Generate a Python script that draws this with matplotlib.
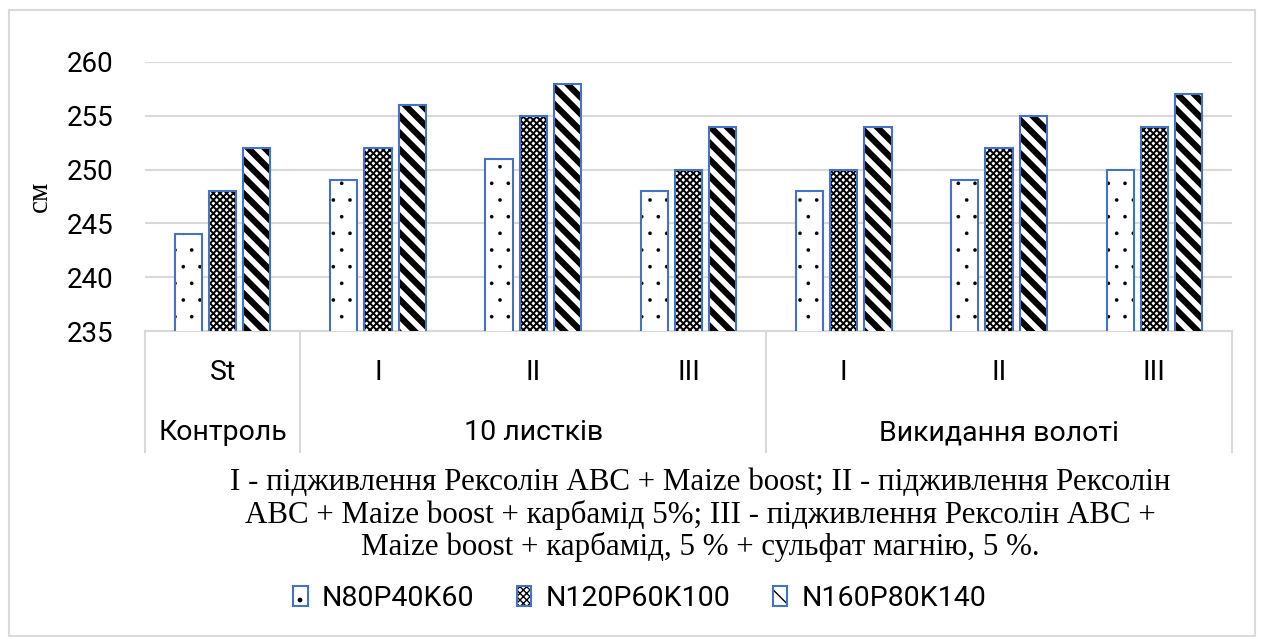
import matplotlib
matplotlib.use("Agg")
import matplotlib.pyplot as plt
from matplotlib.patches import Rectangle, Patch
from matplotlib.lines import Line2D
from matplotlib.legend_handler import HandlerTuple

# Plant height, cm
inner_labels = ["St", "I", "II", "III", "I", "II", "III"]
outer_groups = ["Контроль", "10 листків", "Викидання волоті"]
group_sizes = [1, 3, 3]
series_names = ["N80P40K60", "N120P60K100", "N160P80K140"]
n80p40k60 = [244, 249, 251, 248, 248, 249, 250]
n120p60k100 = [248, 252, 255, 250, 250, 252, 254]
n160p80k140 = [252, 256, 258, 254, 254, 255, 257]
y_ticks = [235, 240, 245, 250, 255, 260]
note = ("I - підживлення Рексолін АВС + Maize boost; II - підживлення Рексолін\n"
        "АВС + Maize boost + карбамід 5%; III - підживлення Рексолін АВС +\n"
        "Maize boost + карбамід, 5 % + сульфат магнію, 5 %.")

SANS = ["Roboto", "DejaVu Sans"]
SERIF = ["Liberation Serif", "DejaVu Serif"]
EDGE = "#4472C4"
GRID = "#D9D9D9"

W, H = 1262, 637
fig = plt.figure(figsize=(W / 100, H / 100), dpi=100)

def fx(px):
    return px / W

def fy(py):
    return 1 - py / H

ax = fig.add_axes([fx(145), fy(331), fx(1232) - fx(145), fy(62) - fy(331)])
ax.set_xlim(-0.5, len(inner_labels) - 0.5)
ax.set_ylim(y_ticks[0], y_ticks[-1])

series = [n80p40k60, n120p60k100, n160p80k140]
hatches = [".", "xxxxx", "\\\\"]
hatch_lw = [0.2, 1.4, 4.5]
offsets = [-0.22, 0.0, 0.22]
width = 0.175
xs = list(range(len(inner_labels)))

handles = []
for vals, hatch, hlw, off, name in zip(series, hatches, hatch_lw, offsets, series_names):
    pos = [x + off for x in xs]
    with plt.rc_context({"hatch.linewidth": hlw}):
        ax.bar(pos, vals, width=width, bottom=0, color="white", edgecolor="black",
               hatch=hatch, linewidth=0, zorder=3)
        hp = Patch(facecolor="white", edgecolor="black", hatch=hatch, linewidth=0)
    ax.bar(pos, vals, width=width, bottom=0, color="none", edgecolor=EDGE,
           linewidth=1.5, zorder=4)
    ep = Patch(facecolor="none", edgecolor=EDGE, linewidth=1.5)
    handles.append((hp, ep))

ax.set_yticks(y_ticks)
ax.set_yticklabels([str(t) for t in y_ticks], fontsize=20, family=SANS)
ax.tick_params(axis="y", length=0, pad=23)
ax.set_xticks([])
ax.yaxis.grid(True, color=GRID, linewidth=1.5, zorder=0)
for s in ["top", "right", "left"]:
    ax.spines[s].set_visible(False)
ax.spines["bottom"].set_color(GRID)
ax.spines["bottom"].set_linewidth(1.5)
ax.set_ylabel("см", fontsize=21, family=SERIF, labelpad=10)

# Two-level category axis below the plot
for x, lab in zip(xs, inner_labels):
    fig.text(ax.transData.transform((x, 0))[0] / W, fy(373), lab, ha="center",
             va="center", fontsize=20.5, family=SANS)
start = 0
bounds = [-0.5]
for g, n in zip(outer_groups, group_sizes):
    center = start + (n - 1) / 2
    fig.text(ax.transData.transform((center, 0))[0] / W, fy(433), g, ha="center",
             va="center", fontsize=20.5, family=SANS)
    start += n
    bounds.append(start - 0.5)
for b in bounds:
    xb = ax.transData.transform((b, 0))[0] / W
    fig.add_artist(Line2D([xb, xb], [fy(331), fy(452)], color=GRID, linewidth=1.5))

fig.text(fx(700), fy(515), note, ha="center", va="center", fontsize=22.3,
         family=SERIF, linespacing=1.12)

leg = fig.legend(handles, series_names, handler_map={tuple: HandlerTuple(ndivide=1, pad=0)},
                 loc="center", bbox_to_anchor=(fx(640), fy(598)), ncol=3, frameon=False,
                 prop={"family": SANS, "size": 20.5}, handlelength=0.5, handleheight=0.7,
                 handletextpad=0.5, columnspacing=1.5)

fig.add_artist(Rectangle((fx(9), fy(636)), fx(1255) - fx(9), fy(10) - fy(636),
                         fill=False, edgecolor=GRID, linewidth=1.5,
                         transform=fig.transFigure))

fig.savefig("out.png", dpi=100)
